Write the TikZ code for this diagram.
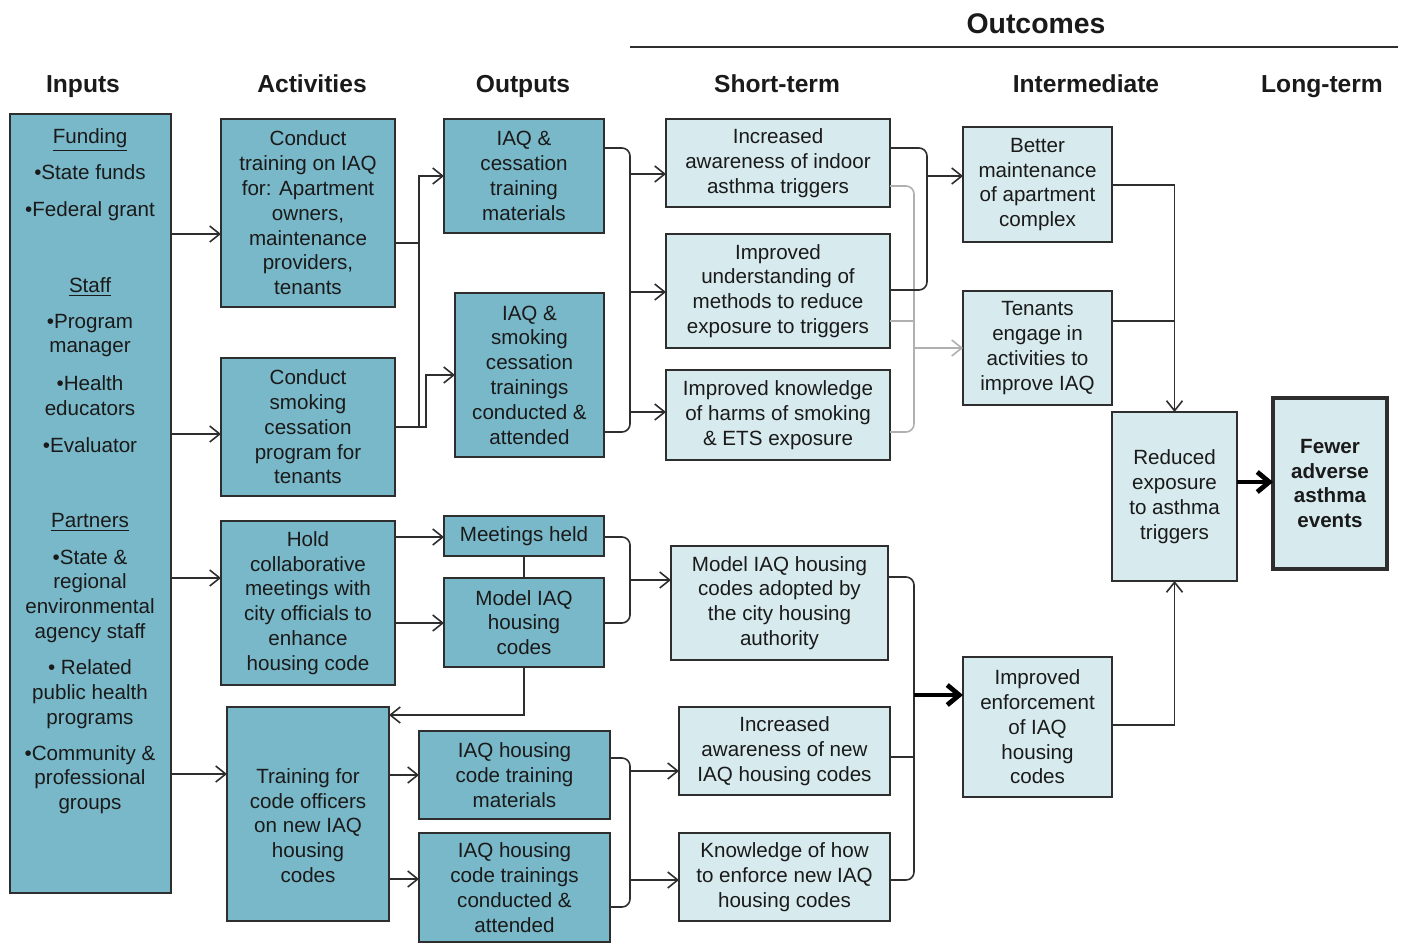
\documentclass[tikz,border=0pt]{standalone}
\usepackage{fontspec}
\setmainfont{Liberation Sans}
\usetikzlibrary{arrows.meta}
\definecolor{dk}{HTML}{79B8C8}
\definecolor{lt}{HTML}{D7EAEE}
\definecolor{bd}{HTML}{2E2E2E}
\definecolor{gy}{HTML}{B0B0B0}
\definecolor{txt}{HTML}{1A1A1A}
\newcommand\mybox[7]{\node[#2, minimum width={(#5-#3)*0.5pt}, minimum height={(#6-#4)*0.5pt}] (#1) at ({(#3+#5)/2},{(#4+#6)/2}) {#7};}
\tikzset{
  base/.style={draw=bd, line width=0.8pt, align=center, inner sep=1pt, outer sep=0pt, font=\fontsize{10.3}{12.4}\selectfont, text=txt},
  dbox/.style={base, fill=dk},
  lbox/.style={base, fill=lt},
  fbox/.style={base, fill=lt, line width=2.2pt, font=\bfseries\fontsize{10.3}{12.4}\selectfont},
  hdr/.style={anchor=base, font=\bfseries\fontsize{12.3}{14}\selectfont, text=txt},
  ln/.style={draw=bd, line width=0.8pt},
  arr/.style={ln, -{Straight Barb[length=5pt,width=8pt]}},
  gln/.style={draw=gy, line width=0.8pt},
  garr/.style={gln, -{Straight Barb[length=5pt,width=8pt]}},
  tarr/.style={draw=black, line width=2.4pt, -{Straight Barb[length=6pt,width=10pt]}},
}
\begin{document}
\begin{tikzpicture}[x=0.5pt,y=-0.5pt]
\useasboundingbox (0,0) rectangle (1403,943);
% headers
\node[anchor=base, font=\bfseries\fontsize{14.2}{16}\selectfont, text=txt] (hOut) at (1036,33) {Outcomes};
\coordinate (ol1) at (630,47);
\coordinate (ol2) at (1398,47);
\draw[ln, line width=0.6pt] (ol1) -- (ol2);
\node[hdr] (hIn) at (83,92) {Inputs};
\node[hdr] (hAct) at (312,92) {Activities};
\node[hdr] (hOutp) at (523,92) {Outputs};
\node[hdr] (hST) at (777,92) {Short-term};
\node[hdr] (hIM) at (1086,92) {Intermediate};
\node[hdr] (hLT) at (1322,92) {Long-term};
% inputs
\mybox{in}{dbox}{10}{114}{171}{893}{}
\node[align=center, inner sep=0pt, anchor=north, font=\fontsize{10.3}{12.4}\selectfont, text=txt] (intext) at (90,128)
{\underline{Funding}\\[5.6pt] •State funds\\[6pt] •Federal grant\\[25.6pt] \underline{Staff}\\[5.6pt] •Program\\ manager\\[6.6pt] •Health\\ educators\\[6pt] •Evaluator\\[25pt] \underline{Partners}\\[6pt] •State \&\\ regional\\ environmental\\ agency staff\\[5.6pt] • Related\\ public health\\ programs\\[5.6pt] •Community \&\\ professional\\ groups};
% activities
\mybox{A1}{dbox}{221}{119}{395}{307}{Conduct\\ training on IAQ\\ for: Apartment\\ owners,\\ maintenance\\ providers,\\ tenants}
\mybox{A2}{dbox}{221}{358}{395}{496}{Conduct\\ smoking\\ cessation\\ program for\\ tenants}
\mybox{A3}{dbox}{221}{521}{395}{685}{Hold\\ collaborative\\ meetings with\\ city officials to\\ enhance\\ housing code}
\mybox{A4}{dbox}{227}{707}{389}{921}{\mbox{}\\[6.6pt]Training for\\ code officers\\ on new IAQ\\ housing\\ codes}
% outputs
\mybox{O1}{dbox}{444}{119}{604}{233}{IAQ \&\\ cessation\\ training\\ materials}
\mybox{O2}{dbox}{455}{293}{604}{457}{IAQ \&\\ smoking\\ cessation\\ trainings\\ conducted \&\\ attended}
\mybox{O3}{dbox}{444}{516}{604}{556}{Meetings held}
\mybox{O4}{dbox}{444}{578}{604}{667}{Model IAQ\\ housing\\ codes}
\mybox{O5}{dbox}{419}{731}{610}{819}{IAQ housing\\ code training\\ materials}
\mybox{O6}{dbox}{419}{833}{610}{942}{IAQ housing\\ code trainings\\ conducted \&\\ attended}
% short-term
\mybox{S1}{lbox}{666}{119}{890}{207}{Increased\\ awareness of indoor\\ asthma triggers}
\mybox{S2}{lbox}{666}{234}{890}{348}{Improved\\ understanding of\\ methods to reduce\\ exposure to triggers}
\mybox{S3}{lbox}{666}{370}{890}{460}{Improved knowledge\\ of harms of smoking\\ \& ETS exposure}
\mybox{S4}{lbox}{671}{546}{888}{660}{Model IAQ housing\\ codes adopted by\\ the city housing\\ authority}
\mybox{S5}{lbox}{679}{707}{890}{795}{Increased\\ awareness of new\\ IAQ housing codes}
\mybox{S6}{lbox}{679}{833}{890}{921}{Knowledge of how\\ to enforce new IAQ\\ housing codes}
% intermediate
\mybox{I1}{lbox}{963}{127}{1112}{242}{Better\\ maintenance\\ of apartment\\ complex}
\mybox{I2}{lbox}{963}{291}{1112}{405}{Tenants\\ engage in\\ activities to\\ improve IAQ}
\mybox{I3}{lbox}{963}{657}{1112}{797}{Improved\\ enforcement\\ of IAQ\\ housing\\ codes}
\mybox{R}{lbox}{1112}{412}{1237}{581}{Reduced\\ exposure\\ to asthma\\ triggers}
\mybox{F}{fbox}{1273}{398}{1387}{569}{Fewer\\ adverse\\ asthma\\ events}
% inputs -> activities
\draw[arr] (in.east |- 0,234) -- (A1.west |- 0,234);
\draw[arr] (in.east |- 0,434) -- (A2.west |- 0,434);
\draw[arr] (in.east |- 0,578) -- (A3.west |- 0,578);
\draw[arr] (in.east |- 0,774) -- (A4.west |- 0,774);
% activities -> outputs (top)
\draw[ln] (A1.east |- 0,243) -- (419,243);
\draw[arr] (A2.east |- 0,427) -- (419,427) -- (419,176) -- (O1.west |- 0,176);
\draw[arr] (A2.east |- 0,427) -- (426,427) -- (426,375) -- (O2.west |- 0,375);
% outputs -> short-term (top)
\draw[ln, rounded corners=4] (O1.east |- 0,148) -- (630,148) -- (630,432) -- (O2.east |- 0,432);
\draw[arr] (630,174) -- (S1.west |- 0,174);
\draw[arr] (630,292) -- (S2.west |- 0,292);
\draw[arr] (630,412) -- (S3.west |- 0,412);
% short-term -> intermediate
\draw[gln, rounded corners=4] (S1.east |- 0,186) -- (914,186) -- (914,432) -- (S3.east |- 0,432);
\draw[gln] (S2.east |- 0,321) -- (914,321);
\draw[garr] (914,348) -- (I2.west |- 0,348);
\draw[ln, rounded corners=4] (S1.east |- 0,148) -- (927,148) -- (927,290) -- (S2.east |- 0,290);
\draw[arr] (927,176) -- (I1.west |- 0,176);
% intermediate -> reduced
\draw[arr] (I1.east |- 0,185) -- (R.north |- 0,185) -- (R.north);
\draw[ln] (I2.east |- 0,321) -- (R.north |- 0,321);
\draw[arr] (I3.east |- 0,725) -- (R.south |- 0,725) -- (R.south);
\draw[tarr] (R.east |- 0,482) -- (F.west |- 0,482);
% meetings / model codes
\draw[arr] (A3.east |- 0,537) -- (O3.west |- 0,537);
\draw[arr] (A3.east |- 0,623) -- (O4.west |- 0,623);
\draw[ln, rounded corners=4] (O3.east |- 0,537) -- (630,537) -- (630,623) -- (O4.east |- 0,623);
\draw[arr] (630,580) -- (S4.west |- 0,580);
\draw[ln] (O3.south) -- (O4.north);
\draw[arr] (O4.south) -- (O4.south |- 0,715) -- (A4.east |- 0,715);
% training for code officers
\draw[arr] (A4.east |- 0,775) -- (O5.west |- 0,775);
\draw[arr] (A4.east |- 0,879) -- (O6.west |- 0,879);
\draw[ln, rounded corners=4] (O5.east |- 0,758) -- (630,758) -- (630,907) -- (O6.east |- 0,907);
\draw[arr] (630,771) -- (S5.west |- 0,771);
\draw[arr] (630,880) -- (S6.west |- 0,880);
% short-term (bottom) -> enforcement
\draw[ln, rounded corners=4] (S4.east |- 0,577) -- (914,577) -- (914,880) -- (S6.east |- 0,880);
\draw[ln] (S5.east |- 0,757) -- (914,757);
\draw[tarr] (914,695) -- (I3.west |- 0,695);
\end{tikzpicture}
\end{document}
